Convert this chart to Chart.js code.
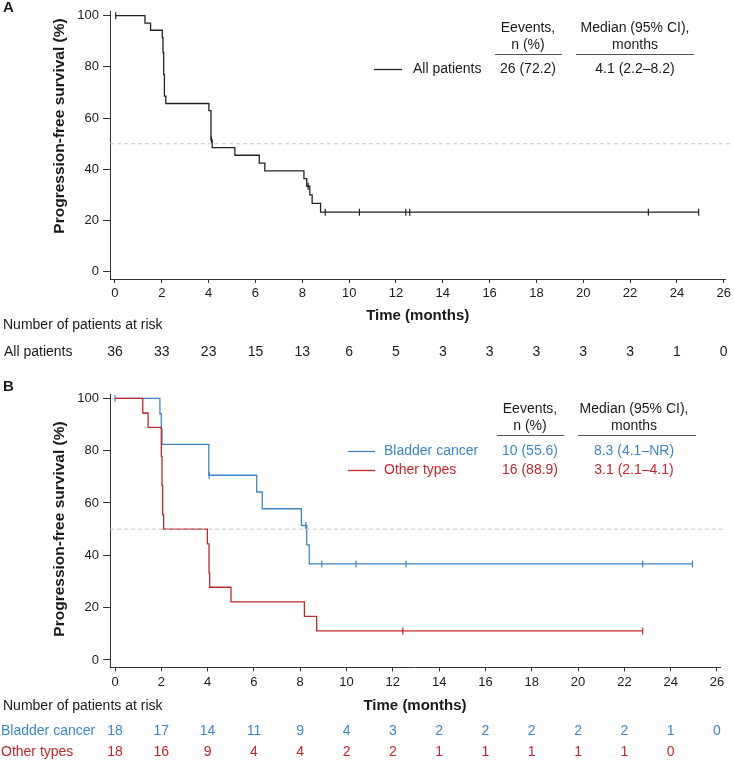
<!DOCTYPE html>
<html>
<head>
<meta charset="utf-8">
<script src="https://cdn.jsdelivr.net/npm/chart.js@4.4.1/dist/chart.umd.min.js"></script>
<style>
    html, body { margin: 0; padding: 0; background: #fff; }
    #wrap { position: relative; width: 734px; height: 762px; }
    #wrap canvas { position: absolute; left: 0; }
</style>
</head>
<body>
<div id="wrap">
    <canvas id="chartA" width="734" height="370" style="top:0"></canvas>
    <canvas id="chartB" width="734" height="392" style="top:370px"></canvas>
</div>
<script>
const FONT = '"Liberation Sans", Arial, sans-serif';
const INK = "#1a1a1a";
const BLACK = "#222";
const BLUE = "#3f86c6";
const RED = "#c2272d";

const xTicks = [0, 2, 4, 6, 8, 10, 12, 14, 16, 18, 20, 22, 24, 26];
const yTicks = [0, 20, 40, 60, 80, 100];

// panel A - all patients (time in months, survival in %)
const allTime = [0, 1.28, 1.52, 2.02, 2.05, 2.08, 2.11, 2.17, 4.01, 4.1, 4.15, 5.12, 6.16, 6.4, 8.07, 8.19, 8.32, 8.42, 8.78, 24.93];
const allSurv = [100, 97.1, 94.3, 91.4, 85.7, 77.1, 68.6, 65.7, 62.9, 51.5, 48.5, 45.5, 42.4, 39.4, 36.4, 33.4, 30.0, 26.7, 23.3, 23.3];
const allCensor = [0.03, 4.12, 8.25, 8.98, 10.44, 12.42, 12.59, 22.78, 24.93];
const allRisk = [36, 33, 23, 15, 13, 6, 5, 3, 3, 3, 3, 3, 1, 0];

// panel B - bladder cancer vs other types
const bladderTime = [0, 1.94, 2.0, 2.03, 4.05, 6.12, 6.36, 8.05, 8.28, 8.39, 24.94];
const bladderSurv = [100, 94.1, 88.2, 82.4, 70.6, 64.2, 57.8, 51.4, 44.0, 36.7, 36.7];
const bladderCensor = [0, 4.07, 8.24, 8.93, 10.41, 12.57, 22.79, 24.94];
const bladderRisk = [18, 17, 14, 11, 9, 4, 3, 2, 2, 2, 2, 2, 1, 0];

const otherTime = [0, 1.2, 1.43, 2.0, 2.03, 2.06, 2.1, 3.99, 4.06, 4.09, 5.01, 8.18, 8.71, 22.79];
const otherSurv = [100, 94.4, 88.9, 77.8, 66.7, 55.6, 50.0, 44.4, 33.3, 27.8, 22.2, 16.7, 11.1, 11.1];
const otherCensor = [12.43, 22.79];
const otherRisk = [18, 16, 9, 4, 4, 2, 2, 1, 1, 1, 1, 1, 0];

const medianLine = 50;

const groupsA = ["All patients"];
const eventsA = ["26 (72.2)"];
const mediansA = ["4.1 (2.2–8.2)"];

const groupsB = ["Bladder cancer", "Other types"];
const eventsB = ["10 (55.6)", "16 (88.9)"];
const mediansB = ["8.3 (4.1–NR)", "3.1 (2.1–4.1)"];

function survAt(times, surv, t) {
    let s = surv[0];
    times.forEach((tt, i) => { if (tt <= t) s = surv[i]; });
    return s;
}

function curve(times, surv, color) {
    return {
        data: times.map((t, i) => ({ x: t, y: surv[i] })),
        showLine: true,
        stepped: "before",
        borderColor: color,
        borderWidth: 1.3,
        pointRadius: 0,
    };
}

function censors(times, surv, cens, color) {
    return {
        data: cens.map((t) => ({ x: t, y: survAt(times, surv, t) })),
        showLine: false,
        pointStyle: "line",
        rotation: 90,
        pointRadius: 3.5,
        borderColor: color,
        backgroundColor: color,
        borderWidth: 1.2,
    };
}

function refLine(xMin, xEnd) {
    return {
        data: [{ x: xMin, y: medianLine }, { x: xEnd, y: medianLine }],
        showLine: true,
        borderColor: "#c4c4c4",
        borderWidth: 1,
        borderDash: [4, 3],
        pointRadius: 0,
        clip: false,
    };
}

// draws panel letter, y title, legend table and risk table
const kmExtras = {
    id: "kmExtras",
    afterDraw(chart, args, o) {
        const ctx = chart.ctx;
        const xs = chart.scales.x;
        ctx.save();
        ctx.textBaseline = "middle";

        ctx.fillStyle = INK;
        ctx.font = "bold 15px " + FONT;
        ctx.textAlign = "left";
        ctx.fillText(o.panel, 3, o.panelY);

        ctx.save();
        ctx.translate(60, o.yTitleY);
        ctx.rotate(-Math.PI / 2);
        ctx.textAlign = "center";
        ctx.font = "bold 15.5px " + FONT;
        ctx.fillText("Progression-free survival (%)", 0, 0);
        ctx.restore();

        // legend table
        const t = o.table;
        ctx.font = "14px " + FONT;
        ctx.textAlign = "center";
        ctx.fillText("Eevents,", t.evX, t.headY);
        ctx.fillText("n (%)", t.evX, t.headY + 17);
        ctx.fillText("Median (95% CI),", t.medX, t.headY);
        ctx.fillText("months", t.medX, t.headY + 17);
        ctx.strokeStyle = "#555";
        ctx.lineWidth = 1;
        ctx.beginPath();
        ctx.moveTo(t.evLine[0], t.headY + 26.5);
        ctx.lineTo(t.evLine[1], t.headY + 26.5);
        ctx.moveTo(t.medLine[0], t.headY + 26.5);
        ctx.lineTo(t.medLine[1], t.headY + 26.5);
        ctx.stroke();
        t.groups.forEach((g, i) => {
            const y = t.rowY + i * 19;
            ctx.strokeStyle = t.colors[i];
            ctx.lineWidth = 1.3;
            ctx.beginPath();
            ctx.moveTo(t.keyX[0], y + 0.5);
            ctx.lineTo(t.keyX[1], y + 0.5);
            ctx.stroke();
            ctx.fillStyle = t.textColors[i];
            ctx.textAlign = "left";
            ctx.fillText(g, t.labelX, y);
            ctx.textAlign = "center";
            ctx.fillText(t.events[i], t.evX, y);
            ctx.fillText(t.medians[i], t.medX, y);
        });

        // number at risk
        const r = o.risk;
        ctx.font = "14px " + FONT;
        ctx.fillStyle = INK;
        ctx.textAlign = "left";
        ctx.fillText("Number of patients at risk", 3, r.headY);
        r.rows.forEach((row, i) => {
            const y = r.rowY + i * 21;
            ctx.fillStyle = row.color;
            ctx.textAlign = "left";
            ctx.fillText(row.label, r.labelX, y);
            ctx.textAlign = "center";
            row.values.forEach((v, j) => {
                ctx.fillText(String(v), xs.getPixelForValue(xTicks[j]), y);
            });
        });
        ctx.restore();
    },
};

function axisOpts(ticks, extra) {
    return Object.assign({
        type: "linear",
        afterBuildTicks: (s) => { s.ticks = ticks.map((v) => ({ value: v })); },
        border: { display: true, color: "#333", width: 1 },
        ticks: { color: INK, font: { family: FONT, size: 13 }, maxRotation: 0, autoSkip: false },
    }, extra);
}

function kmChart(el, datasets, o) {
    return new Chart(el, {
        type: "scatter",
        data: { datasets: datasets },
        options: {
            responsive: false,
            animation: false,
            events: [],
            layout: { padding: { top: o.top, right: o.right, left: 0, bottom: 0 } },
            plugins: {
                legend: { display: false },
                tooltip: { enabled: false },
                kmExtras: o.extras,
            },
            scales: {
                x: axisOpts(xTicks, {
                    min: o.xMin,
                    max: o.xMax,
                    afterFit: (s) => { s.height = o.xHeight; },
                    grid: { drawOnChartArea: false, drawTicks: true, tickLength: 4, tickColor: "#333" },
                    ticks: { color: INK, font: { family: FONT, size: 13 }, padding: 3, maxRotation: 0, autoSkip: false },
                    title: {
                        display: true,
                        text: "Time (months)",
                        color: INK,
                        font: { family: FONT, size: 15, weight: "bold" },
                        padding: { top: 0, bottom: o.titlePad },
                    },
                }),
                y: axisOpts(yTicks, {
                    min: -2.8,
                    max: 101.5,
                    afterFit: (s) => { s.width = 110; },
                    grid: { drawOnChartArea: false, drawTicks: true, tickLength: 7, tickColor: "#333" },
                    ticks: { color: INK, font: { family: FONT, size: 13 }, padding: 4 },
                }),
            },
        },
        plugins: [kmExtras],
    });
}

const xMinA = -0.213;
kmChart(document.getElementById("chartA"), [
    refLine(xMinA, 26.3),
    curve(allTime, allSurv, BLACK),
    censors(allTime, allSurv, allCensor, BLACK),
], {
    top: 6, right: 8, xMin: xMinA, xMax: 26.07, xHeight: 91, titlePad: 45,
    extras: {
        panel: "A", panelY: 8, yTitleY: 126,
        table: {
            groups: groupsA, events: eventsA, medians: mediansA,
            colors: [BLACK], textColors: [INK],
            headY: 28, rowY: 69, evX: 528, medX: 635,
            evLine: [495, 562], medLine: [576, 694],
            keyX: [374, 402], labelX: 413,
        },
        risk: {
            headY: 325, rowY: 352, labelX: 4,
            rows: [{ label: "All patients", values: allRisk, color: INK }],
        },
    },
});

const xMinB = -0.216;
kmChart(document.getElementById("chartB"), [
    refLine(xMinB, 26.4),
    curve(otherTime, otherSurv, RED),
    censors(otherTime, otherSurv, otherCensor, RED),
    curve(bladderTime, bladderSurv, BLUE),
    censors(bladderTime, bladderSurv, bladderCensor, BLUE),
], {
    top: 24.4, right: 14, xMin: xMinB, xMax: 26.13, xHeight: 94.7, titlePad: 47,
    extras: {
        panel: "B", panelY: 17, yTitleY: 159,
        table: {
            groups: groupsB, events: eventsB, medians: mediansB,
            colors: [BLUE, RED], textColors: [BLUE, RED],
            headY: 39, rowY: 81, evX: 530, medX: 634,
            evLine: [497, 564], medLine: [578, 696],
            keyX: [348, 375], labelX: 384,
        },
        risk: {
            headY: 336, rowY: 361, labelX: 1,
            rows: [
                { label: "Bladder cancer", values: bladderRisk, color: BLUE },
                { label: "Other types", values: otherRisk, color: RED },
            ],
        },
    },
});
</script>
</body>
</html>
